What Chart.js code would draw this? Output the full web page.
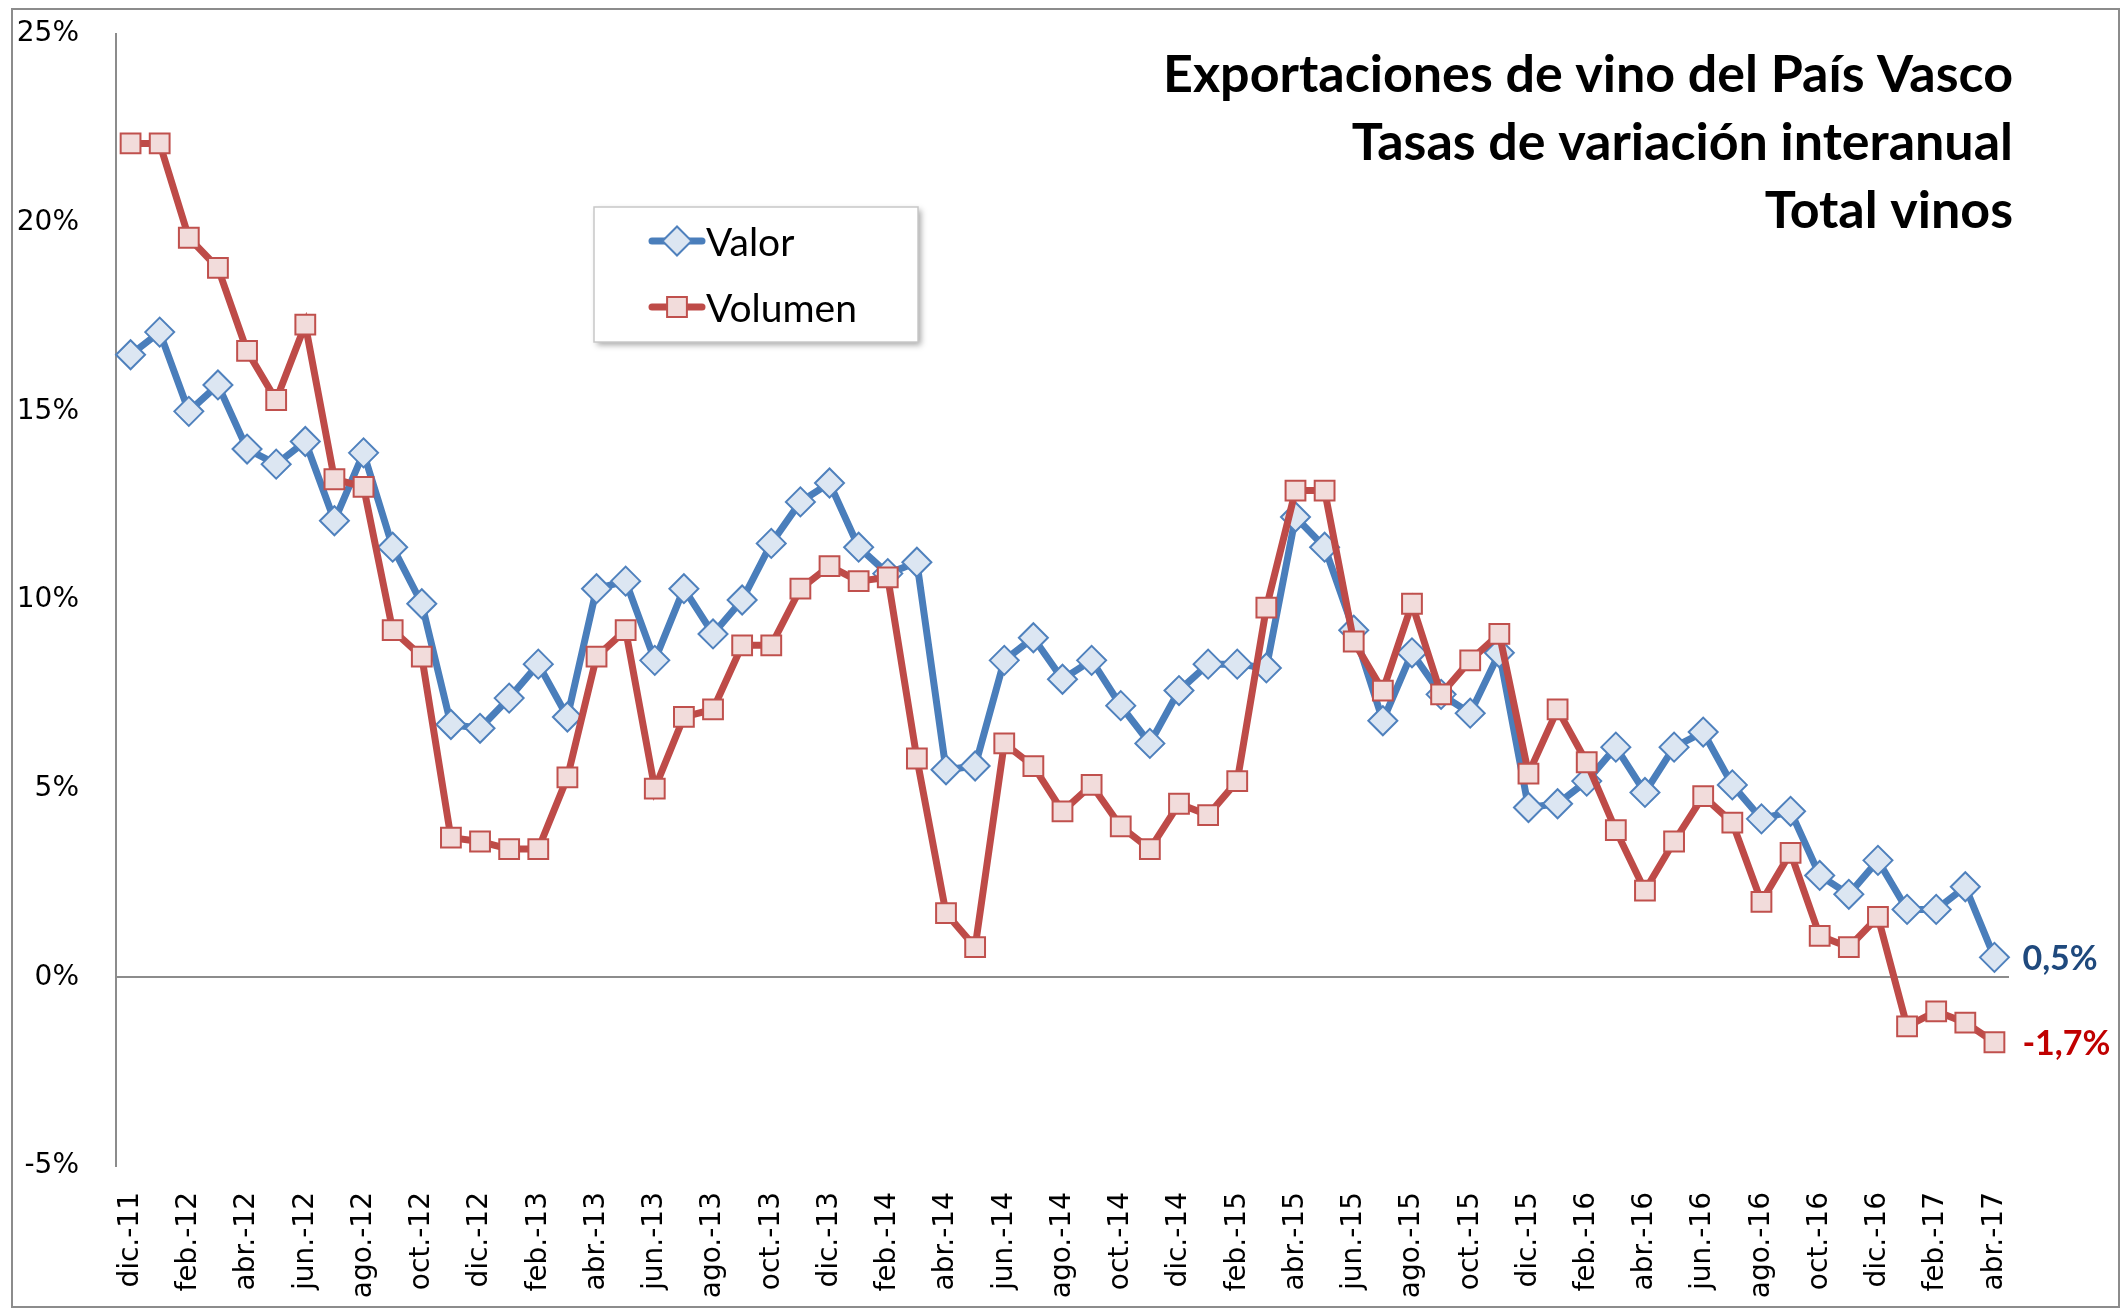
<!DOCTYPE html>
<html lang="es">
<head>
<meta charset="utf-8">
<title>Exportaciones de vino del País Vasco</title>
<script src="https://cdn.jsdelivr.net/npm/chart.js@4.4.1/dist/chart.umd.min.js"></script>
<style>
  html, body { margin: 0; padding: 0; background: #fff; }
</style>
</head>
<body>
<canvas id="exportChart" width="2123" height="1311"></canvas>
<script>
// Months (dic-11 .. abr-17)
const meses = [
  "dic.-11",
  "ene.-12", "feb.-12", "mar.-12", "abr.-12", "may.-12", "jun.-12", "jul.-12", "ago.-12", "sep.-12", "oct.-12", "nov.-12", "dic.-12",
  "ene.-13", "feb.-13", "mar.-13", "abr.-13", "may.-13", "jun.-13", "jul.-13", "ago.-13", "sep.-13", "oct.-13", "nov.-13", "dic.-13",
  "ene.-14", "feb.-14", "mar.-14", "abr.-14", "may.-14", "jun.-14", "jul.-14", "ago.-14", "sep.-14", "oct.-14", "nov.-14", "dic.-14",
  "ene.-15", "feb.-15", "mar.-15", "abr.-15", "may.-15", "jun.-15", "jul.-15", "ago.-15", "sep.-15", "oct.-15", "nov.-15", "dic.-15",
  "ene.-16", "feb.-16", "mar.-16", "abr.-16", "may.-16", "jun.-16", "jul.-16", "ago.-16", "sep.-16", "oct.-16", "nov.-16", "dic.-16",
  "ene.-17", "feb.-17", "mar.-17", "abr.-17"
];

// Year-on-year change, %
const valor = [
  16.5,
  17.1, 15.0, 15.7, 14.0, 13.6, 14.2, 12.1, 13.9, 11.4, 9.9, 6.7, 6.6,
  7.4, 8.3, 6.9, 10.3, 10.5, 8.4, 10.3, 9.1, 10.0, 11.5, 12.6, 13.1,
  11.4, 10.7, 11.0, 5.5, 5.6, 8.4, 9.0, 7.9, 8.4, 7.2, 6.2, 7.6,
  8.3, 8.3, 8.2, 12.2, 11.4, 9.2, 6.8, 8.6, 7.5, 7.0, 8.6, 4.5,
  4.6, 5.2, 6.1, 4.9, 6.1, 6.5, 5.1, 4.2, 4.4, 2.7, 2.2, 3.1,
  1.8, 1.8, 2.4, 0.53
];
const volumen = [
  22.1,
  22.1, 19.6, 18.8, 16.6, 15.3, 17.3, 13.2, 13.0, 9.2, 8.5, 3.7, 3.6,
  3.4, 3.4, 5.3, 8.5, 9.2, 5.0, 6.9, 7.1, 8.8, 8.8, 10.3, 10.9,
  10.5, 10.6, 5.8, 1.7, 0.8, 6.2, 5.6, 4.4, 5.1, 4.0, 3.4, 4.6,
  4.3, 5.2, 9.8, 12.9, 12.9, 8.9, 7.6, 9.9, 7.5, 8.4, 9.1, 5.4,
  7.1, 5.7, 3.9, 2.3, 3.6, 4.8, 4.1, 2.0, 3.3, 1.1, 0.8, 1.6,
  -1.3, -0.9, -1.2, -1.72
];

const yTicks = [-5, 0, 5, 10, 15, 20, 25];
const titleLines = ["Exportaciones de vino del País Vasco", "Tasas de variación interanual", "Total vinos"];
const endColors = ["#1F497D", "#C00000"];

function drawMarker(ctx, style, x, y, r) {
  ctx.beginPath();
  if (style === "rectRot") {
    ctx.moveTo(x - r, y);
    ctx.lineTo(x, y - r);
    ctx.lineTo(x + r, y);
    ctx.lineTo(x, y + r);
  } else {
    const h = r * Math.SQRT1_2;
    ctx.rect(x - h, y - h, 2 * h, 2 * h);
  }
  ctx.closePath();
  ctx.fill();
  ctx.stroke();
}

// white background + thin outer frame
const chartFrame = {
  id: "chartFrame",
  beforeDraw(chart) {
    const ctx = chart.ctx;
    ctx.save();
    ctx.fillStyle = "#fff";
    ctx.fillRect(0, 0, chart.width, chart.height);
    ctx.strokeStyle = "#8c8c8c";
    ctx.lineWidth = 2;
    ctx.strokeRect(12, 9, 2107, 1298);
    ctx.restore();
  }
};

// three-line title, right aligned inside the plot
const titleBlock = {
  id: "titleBlock",
  afterDraw(chart) {
    const ctx = chart.ctx;
    ctx.save();
    ctx.fillStyle = "#000";
    ctx.font = "bold 52px Lato";
    ctx.textAlign = "right";
    ctx.textBaseline = "alphabetic";
    titleLines.forEach((t, i) => ctx.fillText(t, 2013, 92 + i * 68));
    ctx.restore();
  }
};

// boxed legend with line + marker samples
const legendBox = {
  id: "legendBox",
  afterDraw(chart) {
    const ctx = chart.ctx;
    const bx = 594, by = 207, bw = 324, bh = 135;
    ctx.save();
    ctx.shadowColor = "rgba(0,0,0,0.35)";
    ctx.shadowBlur = 6;
    ctx.shadowOffsetX = 3;
    ctx.shadowOffsetY = 3;
    ctx.fillStyle = "#fff";
    ctx.fillRect(bx, by, bw, bh);
    ctx.restore();

    ctx.save();
    ctx.strokeStyle = "#c8c8c8";
    ctx.lineWidth = 1.5;
    ctx.strokeRect(bx, by, bw, bh);
    const rows = [241, 307];
    chart.data.datasets.forEach((ds, i) => {
      const y = rows[i];
      ctx.strokeStyle = ds.borderColor;
      ctx.lineWidth = ds.borderWidth;
      ctx.lineCap = "round";
      ctx.beginPath();
      ctx.moveTo(652, y);
      ctx.lineTo(702, y);
      ctx.stroke();
      ctx.fillStyle = ds.pointBackgroundColor;
      ctx.strokeStyle = ds.pointBorderColor;
      ctx.lineWidth = ds.pointBorderWidth;
      drawMarker(ctx, ds.pointStyle, 677, y, ds.pointRadius);
      ctx.fillStyle = "#000";
      ctx.font = "39px Lato";
      ctx.textAlign = "left";
      ctx.textBaseline = "middle";
      ctx.fillText(ds.label, 706, y + 2);
    });
    ctx.restore();
  }
};

// last value next to the last point of each line
const endLabels = {
  id: "endLabels",
  afterDatasetsDraw(chart) {
    const ctx = chart.ctx;
    ctx.save();
    ctx.font = "bold 34px Lato";
    ctx.textAlign = "left";
    ctx.textBaseline = "middle";
    chart.data.datasets.forEach((ds, i) => {
      const meta = chart.getDatasetMeta(i);
      const pt = meta.data[meta.data.length - 1];
      const v = ds.data[ds.data.length - 1];
      ctx.fillStyle = endColors[i];
      ctx.fillText(v.toFixed(1).replace(".", ",") + "%", pt.x + 28, pt.y + 2);
    });
    ctx.restore();
  }
};

const ctx = document.getElementById("exportChart").getContext("2d");

new Chart(ctx, {
  type: "line",
  data: {
    labels: meses,
    datasets: [
      {
        label: "Valor",
        data: valor,
        order: 1,
        borderColor: "#4A7EBB",
        borderWidth: 7,
        tension: 0,
        fill: false,
        pointStyle: "rectRot",
        pointRadius: 14.5,
        pointBackgroundColor: "#DCE6F2",
        pointBorderColor: "#4F81BD",
        pointBorderWidth: 2
      },
      {
        label: "Volumen",
        data: volumen,
        order: 0,
        borderColor: "#BE4B48",
        borderWidth: 7,
        tension: 0,
        fill: false,
        pointStyle: "rect",
        pointRadius: 14,
        pointBackgroundColor: "#F2DCDB",
        pointBorderColor: "#C0504D",
        pointBorderWidth: 2
      }
    ]
  },
  options: {
    responsive: false,
    animation: false,
    devicePixelRatio: 1,
    layout: { padding: { left: 0, right: 114, top: 34, bottom: 0 } },
    scales: {
      x: {
        offset: true,
        afterFit: s => { s.height = 145; },
        grid: { display: false, drawTicks: false },
        border: { display: false },
        ticks: {
          autoSkip: false,
          maxRotation: 90,
          minRotation: 90,
          padding: 26,
          color: "#000",
          font: { family: "DejaVu Sans", size: 28 },
          callback: function (v, i) { return i % 2 === 0 ? this.getLabelForValue(v) : ""; }
        }
      },
      y: {
        min: -5,
        max: 25,
        afterBuildTicks: s => { s.ticks = yTicks.map(v => ({ value: v })); },
        afterFit: s => {
          s.width = 116;
          s.paddingTop = 0;
          s.paddingBottom = 0;
        },
        grid: {
          drawTicks: false,
          lineWidth: 2,
          color: c => (c.tick && c.tick.value === 0 ? "#8c8c8c" : "rgba(0,0,0,0)")
        },
        border: { color: "#8c8c8c", width: 2 },
        ticks: {
          padding: 37,
          color: "#000",
          font: { family: "DejaVu Sans", size: 28 },
          callback: v => v + "%"
        }
      }
    },
    plugins: {
      legend: { display: false },
      tooltip: { enabled: false }
    }
  },
  plugins: [chartFrame, titleBlock, legendBox, endLabels]
});
</script>
</body>
</html>
